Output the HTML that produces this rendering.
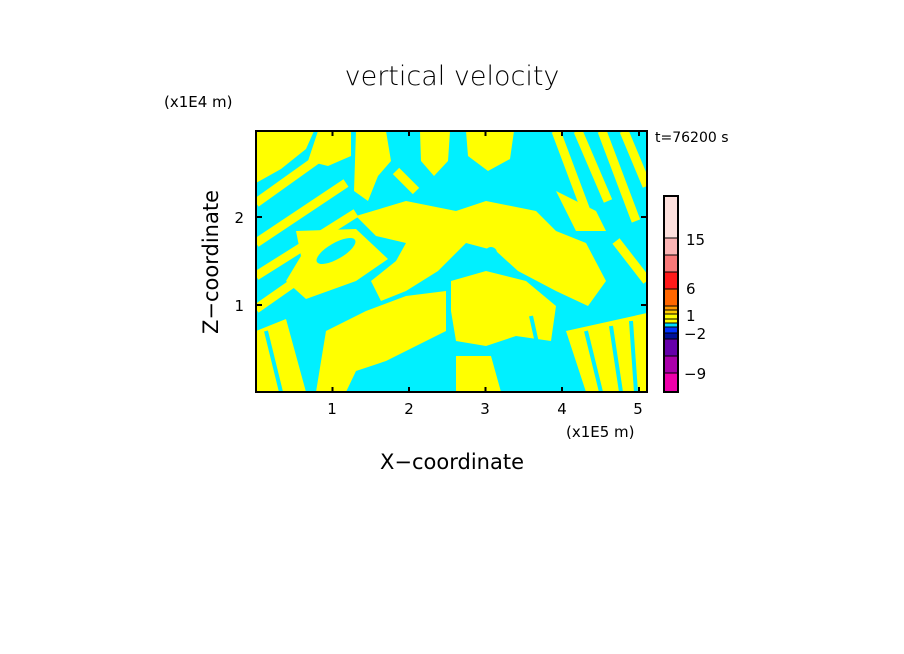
<!DOCTYPE html>
<html><head><meta charset="utf-8"><style>
html,body{margin:0;padding:0;background:#fff;}
svg{display:block;}
text{font-family:"DejaVu Sans","Liberation Sans",sans-serif;fill:#000;}
</style></head><body>
<svg width="904" height="654" viewBox="0 0 904 654" xmlns="http://www.w3.org/2000/svg">
<rect width="904" height="654" fill="#fff"/>
<text x="452" y="85" font-size="27" text-anchor="middle" font-weight="300">vertical velocity</text>
<text x="164" y="107" font-size="15">(x1E4 m)</text>
<text x="655" y="142" font-size="14">t=76200 s</text>
<g transform="translate(256,131)">
<clipPath id="c"><rect width="391" height="261"/></clipPath>
<g clip-path="url(#c)">
<rect width="391" height="261" fill="#00f0ff"/>
<g fill="#ffff00">
<path d="M0,0 H58 L50,18 L25,38 L0,52Z"/>
<path d="M62,0 H95 L95,25 L72,35 L52,30Z"/>
<path d="M100,0 H130 L135,30 L122,45 L112,70 L98,60Z"/>
<path d="M164,0 H194 L192,30 L178,45 L165,30Z"/>
<path d="M210,0 H258 L254,28 L232,40 L212,25Z"/>
<path d="M40,100 L100,98 L132,128 L100,150 L50,168 L30,150 L45,125Z"/>
<path d="M100,85 L150,70 L200,80 L230,70 L280,80 L300,100 L330,112 L350,150 L332,175 L300,160 L262,140 L240,120 L210,112 L182,140 L150,160 L125,170 L115,150 L140,130 L150,112 L120,105Z"/>
<path d="M60,261 L70,200 L110,180 L150,165 L190,160 L190,200 L160,215 L130,230 L100,240 L90,261Z"/>
<path d="M195,150 L230,140 L270,150 L300,175 L295,210 L260,205 L230,215 L200,210 L195,180Z"/>
<path d="M310,200 L391,182 L391,261 L330,261Z"/>
<path d="M0,200 L30,188 L50,261 H0Z"/>
<path d="M200,225 L235,225 L245,261 H200Z"/>
<path d="M300,60 L340,80 L350,100 L320,100Z"/>
</g>
<g stroke="#ffff00" stroke-width="9" fill="none">
<path d="M0,72 L70,22"/><path d="M0,112 L90,52"/><path d="M0,145 L100,82"/>
<path d="M0,178 L40,150"/>
<path d="M300,0 L330,80"/><path d="M322,0 L352,70"/><path d="M346,0 L380,90"/><path d="M368,0 L391,55"/>
<path d="M360,110 L391,150"/><path d="M140,40 L160,60"/>
</g>
<g stroke="#00f0ff" stroke-width="4" fill="none">
<path d="M330,200 L345,261"/><path d="M355,195 L365,261"/><path d="M375,190 L380,261"/>
<path d="M10,200 L25,261"/><path d="M275,185 L285,230"/>
</g>
<ellipse cx="80" cy="120" rx="22" ry="8" transform="rotate(-30 80 120)" fill="#00f0ff"/>
<circle cx="235" cy="122" r="6" fill="#00f0ff"/>
</g>
<rect x="0" y="0" width="391" height="261" fill="none" stroke="#000" stroke-width="2"/>
<path d="M76.5,261 v-5 M153,261 v-5 M229.5,261 v-5 M306,261 v-5 M383,261 v-5 M76.5,0 v5 M153,0 v5 M229.5,0 v5 M306,0 v5 M383,0 v5 M0,174 h6 M0,86 h6 M391,174 h-6 M391,86 h-6" stroke="#000" stroke-width="2"/>
</g>
<text x="332" y="414" font-size="15" text-anchor="middle">1</text>
<text x="409" y="414" font-size="15" text-anchor="middle">2</text>
<text x="485" y="414" font-size="15" text-anchor="middle">3</text>
<text x="562" y="414" font-size="15" text-anchor="middle">4</text>
<text x="638" y="414" font-size="15" text-anchor="middle">5</text>
<text x="566" y="437" font-size="15">(x1E5 m)</text>
<text x="452" y="469" font-size="21" text-anchor="middle">X−coordinate</text>
<text x="244" y="311" font-size="15" text-anchor="end">1</text>
<text x="244" y="223" font-size="15" text-anchor="end">2</text>
<text transform="translate(218,262) rotate(-90)" font-size="21" text-anchor="middle">Z−coordinate</text>
<g>
<rect x="664" y="196" width="14" height="42" fill="#fde0dd"/>
<rect x="664" y="238" width="14" height="17" fill="#fbb4b4"/>
<rect x="664" y="255" width="14" height="17" fill="#f87878"/>
<rect x="664" y="272" width="14" height="17" fill="#ff1a1a"/>
<rect x="664" y="289" width="14" height="17" fill="#ff6600"/>
<rect x="664" y="306" width="14" height="4" fill="#ff9900"/>
<rect x="664" y="310" width="14" height="4" fill="#ffcc00"/>
<rect x="664" y="314" width="14" height="9" fill="#ffff00"/>
<rect x="664" y="323" width="14" height="4" fill="#00ddff"/>
<rect x="664" y="327" width="14" height="6" fill="#0033ff"/>
<rect x="664" y="333" width="14" height="6" fill="#001199"/>
<rect x="664" y="339" width="14" height="17" fill="#6600aa"/>
<rect x="664" y="356" width="14" height="17" fill="#aa00aa"/>
<rect x="664" y="373" width="14" height="19" fill="#ee00aa"/>
<path d="M664,238h14M664,255h14M664,272h14M664,289h14M664,306h14M664,310h14M664,314h14M664,319h14M664,323h14M664,327h14M664,333h14M664,339h14M664,356h14M664,373h14" stroke="#000" stroke-width="1"/>
<rect x="664" y="196" width="14" height="196" fill="none" stroke="#000" stroke-width="2"/>
</g>
<text x="686" y="245" font-size="15">15</text>
<text x="686" y="294" font-size="15">6</text>
<text x="686" y="321" font-size="15">1</text>
<text x="684" y="339" font-size="15">−2</text>
<text x="684" y="379" font-size="15">−9</text>
</svg>
</body></html>
